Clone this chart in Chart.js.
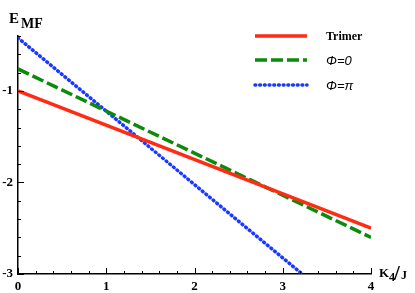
<!DOCTYPE html>
<html>
<head>
<meta charset="utf-8">
<script src="https://cdn.jsdelivr.net/npm/chart.js@4.4.1/dist/chart.umd.min.js"></script>
<style>
  html, body { margin: 0; padding: 0; background: #fff; }
  #chart { display: block; }
</style>
</head>
<body>
<canvas id="chart" width="415" height="293"></canvas>
<script>
// values
const xValues = [0, 4];
const trimerValues = [-1, -2.5];
const phiZeroValues = [-0.76, -2.6];
const phiPiX = [0, 3.22];
const phiPiValues = [-0.42, -3];

const xTicks = [0, 1, 2, 3, 4];
const yTicks = [-3, -2, -1];
const seriesLabels = ['Trimer', 'Φ=0', 'Φ=π'];

const toPoints = (xs, ys) => xs.map((x, i) => ({ x, y: ys[i] }));

const tickFont = { family: 'Liberation Serif', size: 13, weight: 'bold' };

// inward tick marks, legend and axis titles
const decorPlugin = {
  id: 'decor',
  afterDraw(chart) {
    const { ctx, chartArea, scales } = chart;
    const xs = scales.x;
    const ys = scales.y;
    ctx.save();
    ctx.strokeStyle = '#000';
    ctx.lineWidth = 1;

    for (let i = 0; i <= 20; i++) {
      const v = i * 0.2;
      const px = Math.round(xs.getPixelForValue(v)) + 0.5;
      const len = i % 5 === 0 ? 6 : 3;
      ctx.beginPath();
      ctx.moveTo(px, chartArea.bottom);
      ctx.lineTo(px, chartArea.bottom - len);
      ctx.stroke();
    }
    for (let i = 0; i <= 13; i++) {
      const v = -3 + i * 0.2;
      const py = Math.round(ys.getPixelForValue(v)) + 0.5;
      const len = i % 5 === 0 ? 6 : 3;
      ctx.beginPath();
      ctx.moveTo(chartArea.left, py);
      ctx.lineTo(chartArea.left + len, py);
      ctx.stroke();
    }

    // legend
    const rows = [36, 60, 85];
    chart.data.datasets.forEach((ds, i) => {
      const y = rows[i];
      ctx.beginPath();
      ctx.strokeStyle = ds.borderColor;
      ctx.lineWidth = ds.borderWidth;
      ctx.lineCap = ds.borderCapStyle || 'butt';
      ctx.setLineDash(ds.borderDash || []);
      ctx.moveTo(255, y);
      ctx.lineTo(307, y);
      ctx.stroke();
      ctx.setLineDash([]);
      ctx.fillStyle = '#000';
      ctx.textBaseline = 'middle';
      ctx.textAlign = 'left';
      ctx.font = i === 0 ? 'bold 12px "Liberation Serif"' : 'italic 13px "Liberation Sans"';
      ctx.fillText(seriesLabels[i], 326, y + 1);
    });

    // axis titles
    ctx.fillStyle = '#000';
    ctx.textBaseline = 'alphabetic';
    ctx.textAlign = 'left';
    ctx.font = 'bold 15px "Liberation Serif"';
    ctx.fillText('E', 9, 23);
    ctx.font = 'bold 14px "Liberation Serif"';
    ctx.fillText('MF', 21, 28);

    ctx.font = 'bold 13px "Liberation Serif"';
    ctx.fillText('K', 379, 277);
    ctx.font = 'bold 12px "Liberation Serif"';
    ctx.fillText('4', 389, 281);
    ctx.font = 'bold 21px "Liberation Serif"';
    ctx.fillText('/', 394, 280);
    ctx.font = 'bold 12px "Liberation Serif"';
    ctx.fillText('J', 401, 279);
    ctx.restore();
  },
};

new Chart(document.getElementById('chart'), {
  type: 'line',
  data: {
    datasets: [
      {
        label: seriesLabels[0],
        data: toPoints(xValues, trimerValues),
        borderColor: '#ff2b12',
        borderWidth: 3.5,
      },
      {
        label: seriesLabels[1],
        data: toPoints(xValues, phiZeroValues),
        borderColor: '#0b8a0b',
        borderWidth: 3.5,
        borderDash: [12, 4],
      },
      {
        label: seriesLabels[2],
        data: toPoints(phiPiX, phiPiValues),
        borderColor: '#1a38ff',
        borderWidth: 3.5,
        borderDash: [0.8, 3.9],
        borderCapStyle: 'round',
      },
    ],
  },
  options: {
    responsive: false,
    animation: false,
    devicePixelRatio: 1,
    elements: { point: { radius: 0 }, line: { tension: 0 } },
    layout: { padding: { top: 36, right: 44, left: 0, bottom: 0 } },
    plugins: { legend: { display: false }, tooltip: { enabled: false } },
    scales: {
      x: {
        type: 'linear',
        min: 0,
        max: 4,
        afterBuildTicks: (s) => { s.ticks = xTicks.map((v) => ({ value: v })); },
        afterFit: (s) => { s.height = 19; },
        grid: { display: false, drawTicks: false },
        border: { display: true, color: '#000', width: 1.5 },
        ticks: { font: tickFont, color: '#000', padding: 5, maxRotation: 0, autoSkip: false },
      },
      y: {
        type: 'linear',
        min: -3,
        max: -0.4,
        afterBuildTicks: (s) => { s.ticks = yTicks.map((v) => ({ value: v })); },
        afterFit: (s) => { s.width = 18; },
        grid: { display: false, drawTicks: false },
        border: { display: true, color: '#000', width: 1.5 },
        ticks: { font: tickFont, color: '#000', padding: 5 },
      },
    },
  },
  plugins: [decorPlugin],
});
</script>
</body>
</html>
